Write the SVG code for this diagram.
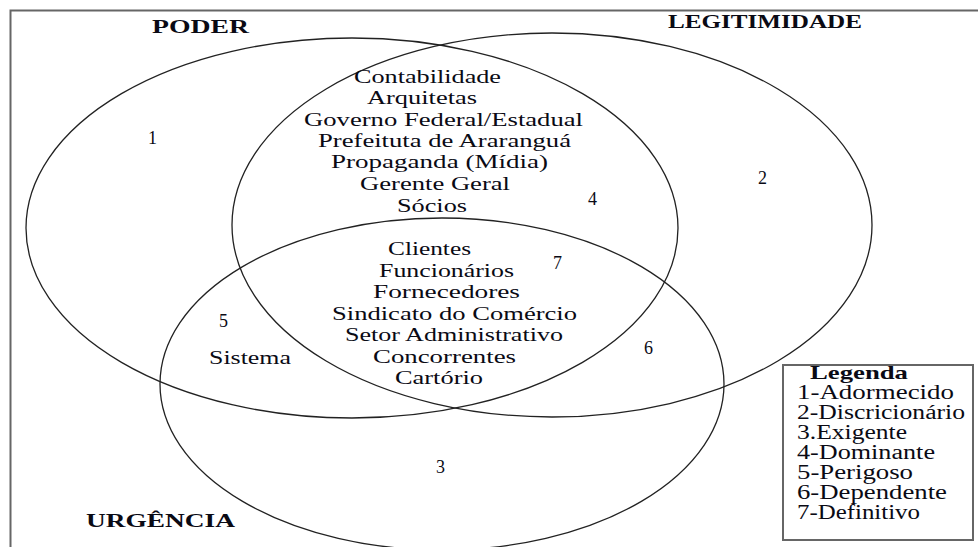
<svg xmlns="http://www.w3.org/2000/svg" width="978" height="547" viewBox="0 0 978 547">
<style>
.set{fill:none;stroke:#222;stroke-width:1.3}
.frame{fill:none;stroke:#666;stroke-width:2}
text{font-family:"Liberation Serif","Times New Roman",serif;fill:#0a0a14}
.t{font-size:19px}
.n{font-size:18px}
.h{font-size:18px;font-weight:bold}
.lg{font-size:20px}
.lgh{font-size:19px;font-weight:bold}
</style>
<rect width="978" height="547" fill="#fff"/>
<path class="frame" d="M10.5,547 V10.5 H978"/>
<g id="poder">
<ellipse class="set" cx="352" cy="228" rx="326" ry="190"/>
<text class="h" x="152" y="33" textLength="97" lengthAdjust="spacingAndGlyphs">PODER</text>
<text class="n" x="148" y="144">1</text>
</g>
<g id="legitimidade">
<ellipse class="set" cx="552" cy="225" rx="320" ry="192"/>
<text class="h" x="668" y="28" textLength="194" lengthAdjust="spacingAndGlyphs">LEGITIMIDADE</text>
<text class="n" x="758" y="184">2</text>
</g>
<g id="urgencia">
<ellipse class="set" cx="442" cy="384" rx="282" ry="166"/>
<text class="h" x="86" y="527" textLength="149" lengthAdjust="spacingAndGlyphs">URGÊNCIA</text>
<text class="n" x="436" y="473">3</text>
</g>
<g id="dominante">
<text class="t" x="354" y="83" textLength="147" lengthAdjust="spacingAndGlyphs">Contabilidade</text>
<text class="t" x="367" y="104" textLength="110" lengthAdjust="spacingAndGlyphs">Arquitetas</text>
<text class="t" x="304" y="126" textLength="279" lengthAdjust="spacingAndGlyphs">Governo Federal/Estadual</text>
<text class="t" x="318" y="147" textLength="253" lengthAdjust="spacingAndGlyphs">Prefeituta de Araranguá</text>
<text class="t" x="331" y="168" textLength="217" lengthAdjust="spacingAndGlyphs">Propaganda (Mídia)</text>
<text class="t" x="360" y="190" textLength="150" lengthAdjust="spacingAndGlyphs">Gerente Geral</text>
<text class="t" x="397" y="212" textLength="70" lengthAdjust="spacingAndGlyphs">Sócios</text>
<text class="n" x="588" y="205">4</text>
</g>
<g id="definitivo">
<text class="t" x="388" y="255" textLength="83" lengthAdjust="spacingAndGlyphs">Clientes</text>
<text class="t" x="379" y="277" textLength="135" lengthAdjust="spacingAndGlyphs">Funcionários</text>
<text class="t" x="373" y="298" textLength="147" lengthAdjust="spacingAndGlyphs">Fornecedores</text>
<text class="t" x="332" y="320" textLength="245" lengthAdjust="spacingAndGlyphs">Sindicato do Comércio</text>
<text class="t" x="345" y="341" textLength="218" lengthAdjust="spacingAndGlyphs">Setor Administrativo</text>
<text class="t" x="373" y="363" textLength="143" lengthAdjust="spacingAndGlyphs">Concorrentes</text>
<text class="t" x="395" y="384" textLength="88" lengthAdjust="spacingAndGlyphs">Cartório</text>
<text class="n" x="553" y="269">7</text>
</g>
<g id="perigoso">
<text class="n" x="219" y="327">5</text>
<text class="t" x="209" y="364" textLength="82" lengthAdjust="spacingAndGlyphs">Sistema</text>
</g>
<g id="dependente">
<text class="n" x="644" y="354">6</text>
</g>
<g id="legenda">
<rect x="783" y="365" width="190" height="175" fill="#fff" stroke="#666" stroke-width="2"/>
<text class="lgh" x="810" y="379" textLength="98" lengthAdjust="spacingAndGlyphs">Legenda</text>
<text class="lg" x="797" y="399" textLength="157" lengthAdjust="spacingAndGlyphs">1-Adormecido</text>
<text class="lg" x="797" y="419" textLength="168" lengthAdjust="spacingAndGlyphs">2-Discricionário</text>
<text class="lg" x="797" y="439" textLength="110" lengthAdjust="spacingAndGlyphs">3.Exigente</text>
<text class="lg" x="797" y="459" textLength="138" lengthAdjust="spacingAndGlyphs">4-Dominante</text>
<text class="lg" x="797" y="479" textLength="116" lengthAdjust="spacingAndGlyphs">5-Perigoso</text>
<text class="lg" x="797" y="499" textLength="150" lengthAdjust="spacingAndGlyphs">6-Dependente</text>
<text class="lg" x="797" y="519" textLength="123" lengthAdjust="spacingAndGlyphs">7-Definitivo</text>
</g>
</svg>
